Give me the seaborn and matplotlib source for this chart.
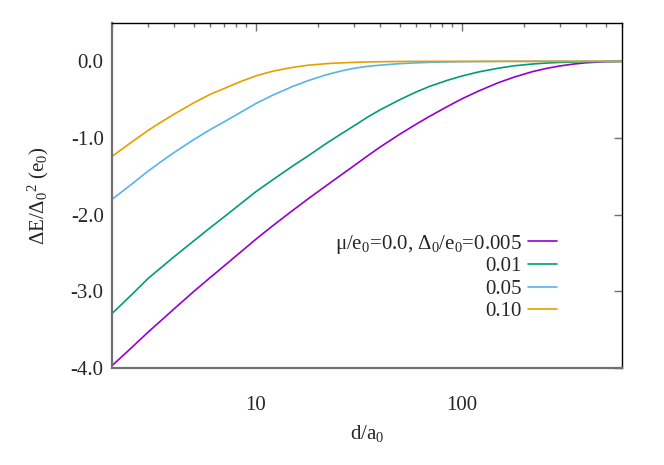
import numpy as np
import pandas as pd
import matplotlib
matplotlib.use("Agg")
import matplotlib.pyplot as plt
import seaborn as sns
from matplotlib.ticker import FixedLocator, FormatStrFormatter, NullFormatter

# jarak d/a0 (sumbu x, log)
d = [2, 2.5, 3, 3.5, 4, 5, 6, 7, 8.5, 10, 12, 15, 18, 22, 26, 30, 35, 40,
     50, 60, 70, 85, 100, 120, 150, 180, 220, 260, 300, 350, 400, 500, 600]

# dE/Delta0^2, satu list per Delta0/e0
e_0005 = [-3.97, -3.73, -3.53, -3.37, -3.23, -3.00, -2.82, -2.67, -2.48, -2.32,
          -2.15, -1.95, -1.79, -1.62, -1.48, -1.36, -1.23, -1.12, -0.95, -0.82,
          -0.715, -0.59, -0.49, -0.39, -0.28, -0.205, -0.135, -0.09, -0.06,
          -0.035, -0.019, -0.005, 0.0]
e_001 = [-3.29, -3.04, -2.83, -2.68, -2.55, -2.34, -2.17, -2.03, -1.85, -1.70,
         -1.55, -1.37, -1.23, -1.07, -0.945, -0.84, -0.725, -0.635, -0.50,
         -0.40, -0.325, -0.248, -0.192, -0.14, -0.09, -0.058, -0.035, -0.022,
         -0.014, -0.008, -0.004, -0.001, 0.0]
e_005 = [-1.80, -1.60, -1.43, -1.30, -1.19, -1.02, -0.89, -0.79, -0.66, -0.55,
         -0.445, -0.33, -0.25, -0.175, -0.125, -0.09, -0.065, -0.05, -0.03,
         -0.02, -0.013, -0.008, -0.005, -0.003, -0.001, 0.0, 0.0, 0.0, 0.0,
         0.0, 0.0, 0.0, 0.0]
e_010 = [-1.24, -1.05, -0.90, -0.785, -0.69, -0.54, -0.43, -0.355, -0.26,
         -0.19, -0.13, -0.08, -0.05, -0.03, -0.02, -0.013, -0.008, -0.005,
         -0.002, 0.0, 0.0, 0.0, 0.0, 0.0, 0.0, 0.0, 0.0, 0.0, 0.0, 0.0, 0.0,
         0.0, 0.0]

labels = ["μ/e$_0$=0.0, Δ$_0$/e$_0$=0.005", "0.01", "0.05", "0.10"]
colors = ["#9400d3", "#009e73", "#56b4e9", "#e69f00"]

frames = []
for lab, vals in zip(labels, [e_0005, e_001, e_005, e_010]):
    frames.append(pd.DataFrame({"d": d, "dE": vals, "delta": lab}))
df = pd.concat(frames, ignore_index=True)

sns.set_style("white")
plt.rcParams["font.family"] = ["Liberation Serif", "DejaVu Serif"]
plt.rcParams["mathtext.fontset"] = "custom"
plt.rcParams["mathtext.rm"] = "Liberation Serif"
plt.rcParams["mathtext.it"] = "Liberation Serif"
plt.rcParams["axes.unicode_minus"] = False

fig = plt.figure(figsize=(6.64, 4.65), dpi=100)
ax = fig.add_axes([112 / 664, 1 - 368 / 465, 510 / 664, 345 / 465])

sns.lineplot(data=df, x="d", y="dE", hue="delta", palette=colors,
             linewidth=1.2, legend=False, ax=ax)

ax.set_xscale("log")
ax.set_xlim(2, 600)
ax.set_ylim(-4.0, 0.5)

ax.xaxis.set_major_locator(FixedLocator([10, 100]))
ax.xaxis.set_major_formatter(FormatStrFormatter("%d"))
minors = [m * 10 ** k for k in range(3) for m in range(2, 10)]
ax.xaxis.set_minor_locator(FixedLocator([v for v in minors if 2 <= v <= 600]))
ax.xaxis.set_minor_formatter(NullFormatter())
ax.set_yticks([0.0, -1.0, -2.0, -3.0, -4.0])
ax.yaxis.set_major_formatter(FormatStrFormatter("%.1f"))

ax.tick_params(which="both", direction="in", top=True, right=True,
               color="#707070", labelsize=15)
ax.tick_params(which="major", length=6, width=1)
ax.tick_params(which="minor", length=3, width=1)
ax.tick_params(axis="x", pad=20)
ax.tick_params(axis="y", pad=6)

for s in ["left", "bottom"]:
    ax.spines[s].set_color("#707070")
    ax.spines[s].set_linewidth(1.6)
for s in ["top", "right"]:
    ax.spines[s].set_color("black")
    ax.spines[s].set_linewidth(1.0)

ax.set_xlabel("d/a$_0$", fontsize=15, labelpad=6)
ax.set_ylabel("ΔE/Δ$_0$$^2$ (e$_0$)", fontsize=15, labelpad=14)

# legenda ala gnuplot: teks rata kanan, garis di sebelah kanan
ys = [0.369, 0.301, 0.236, 0.170]
for lab, col, yy in zip(labels, colors, ys):
    ax.text(0.804, yy, lab, transform=ax.transAxes, ha="right",
            va="center_baseline", fontsize=15)
    ax.plot([0.816, 0.873], [yy, yy], transform=ax.transAxes,
            color=col, linewidth=1.2)

fig.savefig("out.png", dpi=100)
